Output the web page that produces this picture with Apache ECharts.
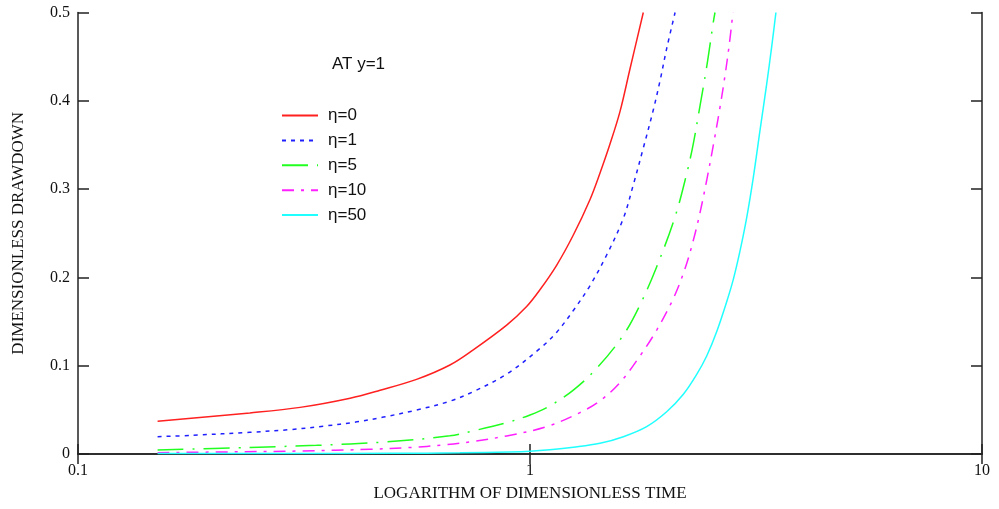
<!DOCTYPE html>
<html>
<head>
<meta charset="utf-8">
<script src="https://cdn.jsdelivr.net/npm/echarts@6/dist/echarts.min.js"></script>
<style>
  html, body { margin: 0; padding: 0; background: #fff; }
  #chart { width: 999px; height: 509px; }
</style>
</head>
<body>
<div id="chart"></div>
<script>
// values (dimensionless time, dimensionless drawdown)
var eta0T  = [0.15, 0.24, 0.31, 0.40, 0.466, 0.561, 0.665, 0.749, 0.888, 0.983, 1.052, 1.146, 1.247, 1.357, 1.428, 1.503, 1.582, 1.664, 1.781];
var eta0S  = [0.037, 0.0465, 0.0528, 0.0632, 0.0722, 0.0845, 0.1008, 0.118, 0.146, 0.167, 0.186, 0.214, 0.248, 0.288, 0.318, 0.351, 0.388, 0.436, 0.5];

var eta1T  = [0.15, 0.18, 0.24, 0.294, 0.349, 0.414, 0.474, 0.561, 0.665, 0.749, 0.888, 1.052, 1.146, 1.247, 1.357, 1.478, 1.609, 1.692, 1.781, 1.874, 1.94, 2.006, 2.094];
var eta1S  = [0.0196, 0.0212, 0.0246, 0.0276, 0.0315, 0.0364, 0.0418, 0.0498, 0.0598, 0.0706, 0.0905, 0.1195, 0.138, 0.1625, 0.1905, 0.2254, 0.267, 0.3046, 0.3465, 0.3896, 0.423, 0.459, 0.5];

var eta5T  = [0.15, 0.24, 0.337, 0.474, 0.665, 0.749, 0.888, 1.0, 1.107, 1.247, 1.405, 1.609, 1.751, 1.907, 2.094, 2.222, 2.298, 2.377, 2.46, 2.545, 2.566];
var eta5S  = [0.0045, 0.0075, 0.0098, 0.0135, 0.0206, 0.0262, 0.0355, 0.0442, 0.0546, 0.0724, 0.0971, 0.1347, 0.1687, 0.2121, 0.2687, 0.3176, 0.3516, 0.394, 0.4386, 0.4895, 0.5];

var eta10T = [0.15, 0.217, 0.31, 0.443, 0.543, 0.643, 0.749, 0.888, 1.089, 1.29, 1.428, 1.582, 1.751, 1.907, 2.075, 2.203, 2.298, 2.377, 2.46, 2.545, 2.633, 2.701, 2.76, 2.812];
var eta10S = [0.0015, 0.0024, 0.0034, 0.0053, 0.0074, 0.0102, 0.0142, 0.0205, 0.031, 0.0469, 0.0602, 0.0809, 0.111, 0.1404, 0.176, 0.21, 0.242, 0.273, 0.31, 0.35, 0.393, 0.429, 0.464, 0.5];

var eta50T = [0.15, 0.3, 0.5, 0.7, 0.9, 1.0, 1.107, 1.247, 1.428, 1.609, 1.812, 2.006, 2.184, 2.338, 2.46, 2.588, 2.725, 2.818, 2.915, 3.016, 3.119, 3.228, 3.339, 3.425, 3.5];
var eta50S = [0.0005, 0.0006, 0.0008, 0.0013, 0.0022, 0.003, 0.0047, 0.0076, 0.0121, 0.0196, 0.031, 0.0478, 0.0677, 0.0902, 0.111, 0.1384, 0.1727, 0.198, 0.230, 0.2677, 0.313, 0.3667, 0.419, 0.461, 0.5];

var xTicks = [0.1, 1, 10];
var yTicks = [0, 0.1, 0.2, 0.3, 0.4, 0.5];

function pairs(t, s) {
    var out = [];
    for (var i = 0; i < t.length; i++) out.push([t[i], s[i]]);
    return out;
}

var serif = 'Liberation Serif';
var sans = 'Liberation Sans';
var axisCol = '#222';

function curve(name, t, s, color, dash) {
    return {
        name: name,
        type: 'line',
        data: pairs(t, s),
        symbol: 'none',
        smooth: 0.35,
        clip: true,
        lineStyle: { color: color, width: 1.5, type: dash },
        itemStyle: { color: color }
    };
}

var myChart = echarts.init(document.getElementById('chart'));
var option = {
    animation: false,
    backgroundColor: '#fff',
    title: {
        text: 'AT y=1',
        left: 332,
        top: 56,
        padding: 0,
        textStyle: { fontFamily: sans, fontSize: 17, fontWeight: 'normal', color: '#111' }
    },
    legend: {
        orient: 'vertical',
        left: 281,
        top: 107,
        padding: 0,
        itemWidth: 36,
        itemHeight: 14,
        itemGap: 7.9,
        itemStyle: { opacity: 0 },
        textStyle: { fontFamily: sans, fontSize: 17, color: '#111', padding: [0, 0, 0, 5] },
        data: ['η=0', 'η=1', 'η=5', 'η=10', 'η=50']
    },
    grid: { left: 78, right: 17, top: 12.5, bottom: 55, containLabel: false, outerBoundsMode: 'none' },
    xAxis: [{
        type: 'log',
        logBase: 10,
        min: xTicks[0],
        max: xTicks[xTicks.length - 1],
        name: 'LOGARITHM OF DIMENSIONLESS TIME',
        nameLocation: 'middle',
        nameGap: 31,
        nameTextStyle: { fontFamily: serif, fontSize: 17, color: '#111' },
        axisLine: { lineStyle: { color: axisCol, width: 1.5 } },
        axisTick: { inside: true, length: 10, lineStyle: { color: axisCol, width: 1.5 } },
        axisLabel: { fontFamily: serif, fontSize: 16, color: '#111', margin: 9 },
        splitLine: { show: false }
    }, {
        type: 'log',
        logBase: 10,
        position: 'top',
        min: xTicks[0],
        max: xTicks[xTicks.length - 1],
        axisLine: { lineStyle: { color: axisCol, width: 1.5 } },
        axisTick: { inside: true, length: 10, lineStyle: { color: axisCol, width: 1.5 } },
        axisLabel: { show: false },
        splitLine: { show: false }
    }],
    yAxis: [{
        type: 'value',
        min: yTicks[0],
        max: yTicks[yTicks.length - 1],
        interval: 0.1,
        name: 'DIMENSIONLESS DRAWDOWN',
        nameLocation: 'middle',
        nameGap: 51,
        nameTextStyle: { fontFamily: serif, fontSize: 17, color: '#111' },
        axisLine: { show: true, lineStyle: { color: axisCol, width: 1.5 } },
        axisTick: { show: true, inside: true, length: 11, lineStyle: { color: axisCol, width: 1.5 } },
        axisLabel: { fontFamily: serif, fontSize: 16, color: '#111', margin: 8 },
        splitLine: { show: false }
    }, {
        type: 'value',
        position: 'right',
        min: yTicks[0],
        max: yTicks[yTicks.length - 1],
        interval: 0.1,
        axisLine: { show: true, lineStyle: { color: axisCol, width: 1.5 } },
        axisTick: { show: true, inside: true, length: 11, lineStyle: { color: axisCol, width: 1.5 } },
        axisLabel: { show: false },
        splitLine: { show: false }
    }],
    series: [
        curve('η=0', eta0T, eta0S, '#ff2020', 'solid'),
        curve('η=1', eta1T, eta1S, '#2020ff', [4, 5]),
        curve('η=5', eta5T, eta5S, '#20ff20', [26, 9, 2, 9]),
        curve('η=10', eta10T, eta10S, '#ff20ff', [12, 7, 3, 7]),
        curve('η=50', eta50T, eta50S, '#20ffff', 'solid')
    ]
};
myChart.setOption(option);
</script>
</body>
</html>
